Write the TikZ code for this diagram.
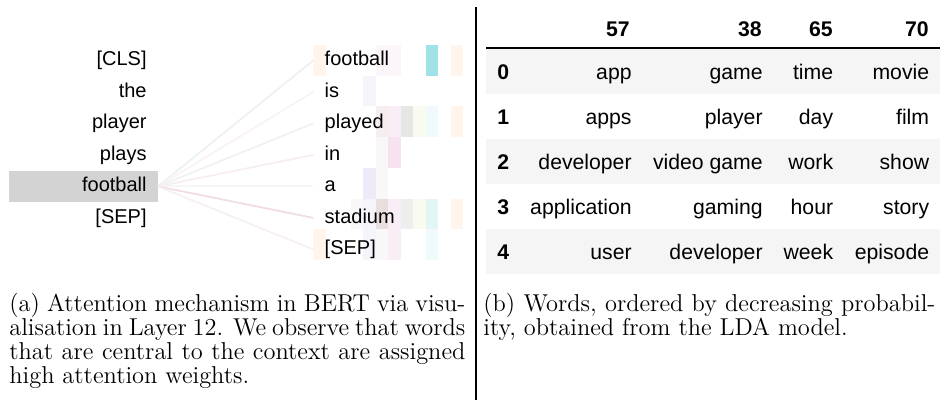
\documentclass[tikz,border=0pt]{standalone}
\usepackage{fontspec}
\usepackage{tikz}
\usetikzlibrary{positioning}
\newfontfamily\arialfont{Liberation Sans}
\definecolor{hlgray}{RGB}{211,211,211}
\definecolor{rowgray}{RGB}{245,245,245}
\definecolor{cteal}{RGB}{160,226,232}
\definecolor{cteallt}{RGB}{226,246,246}
\definecolor{ctealxl}{RGB}{240,250,252}
\definecolor{cpink}{RGB}{247,226,240}
\definecolor{cpinklt}{RGB}{250,238,246}
\definecolor{cpinkxl}{RGB}{252,246,250}
\definecolor{clav}{RGB}{238,234,248}
\definecolor{clavlt}{RGB}{246,244,251}
\definecolor{cgray}{RGB}{230,230,230}
\definecolor{cgraylt}{RGB}{238,238,238}
\definecolor{cbrown}{RGB}{232,222,222}
\definecolor{cbeige}{RGB}{245,238,238}
\definecolor{cyellow}{RGB}{249,251,240}
\definecolor{corange}{RGB}{255,245,236}
\definecolor{cfaint}{RGB}{250,247,249}

\begin{document}
\begin{tikzpicture}[
  x=0.5pt, y=-0.5pt,
  lword/.style={text width=63.5pt, align=right, inner xsep=5.5pt, inner ysep=0pt,
                minimum height=15.35pt, text height=7.3pt, text depth=2.1pt,
                font=\arialfont\fontsize{10}{12}\selectfont},
  rword/.style={lword, align=left, text width=50pt},
  attn/.style={line width=0.9pt},
  tab/.style={anchor=base east, inner sep=0pt, font=\arialfont\fontsize{10.6}{12}\selectfont},
  tabhead/.style={tab, font=\arialfont\bfseries\fontsize{10.6}{12}\selectfont},
  tabidx/.style={tabhead, anchor=base west},
  captext/.style={anchor=base west, inner sep=0pt, font=\fontsize{12.2}{14}\selectfont},
  node distance=0pt,
]
  \useasboundingbox (0,0) rectangle (942,400);

  % attention heat cells behind the target words
  \foreach \r/\c/\col in {0/0/corange, 0/5/cpinkxl, 0/6/cpinkxl, 0/9/cteal, 0/11/corange,
      1/4/clavlt, 2/5/cbeige, 2/6/cpinklt, 2/7/cgray, 2/8/cyellow, 2/9/ctealxl, 2/11/corange,
      3/5/cfaint, 3/6/cpink, 4/4/clav, 4/5/cfaint,
      5/3/cfaint, 5/4/clavlt, 5/5/cbrown, 5/6/cpinklt, 5/7/cgraylt, 5/8/cyellow, 5/9/cteallt, 5/11/corange,
      6/0/corange, 6/4/clavlt, 6/5/cfaint, 6/6/cpinklt, 6/9/ctealxl}
    \fill[\col] ({313.3+12.5*\c},{45.05+30.7*\r}) rectangle ++(12.5,30.7);

  % source words
  \node[lword, anchor=east] (l0) at (158,60.4) {[CLS]};
  \node[lword, below=of l0] (l1) {the};
  \node[lword, below=of l1] (l2) {player};
  \node[lword, below=of l2] (l3) {plays};
  \node[lword, below=of l3, fill=hlgray] (l4) {football};
  \node[lword, below=of l4] (l5) {[SEP]};

  % target words
  \node[rword, anchor=west] (r0) at (313.3,60.4) {football};
  \node[rword, below=of r0] (r1) {is};
  \node[rword, below=of r1] (r2) {played};
  \node[rword, below=of r2] (r3) {in};
  \node[rword, below=of r3] (r4) {a};
  \node[rword, below=of r4] (r5) {stadium};
  \node[rword, below=of r5] (r6) {[SEP]};

  \draw[attn, color={rgb,255:red,236;green,242;blue,238}] (l4.east) -- (r0.west);
  \draw[attn, color={rgb,255:red,249;green,242;blue,246}] (l4.east) -- (r1.west);
  \draw[attn, color={rgb,255:red,238;green,243;blue,240}] (l4.east) -- (r2.west);
  \draw[attn, color={rgb,255:red,247;green,237;blue,242}] (l4.east) -- (r3.west);
  \draw[attn, color={rgb,255:red,246;green,246;blue,246}] (l4.east) -- (r4.west);
  \draw[attn, color={rgb,255:red,240;green,222;blue,229}] (l4.east) -- (r5.west);
  \draw[attn, color={rgb,255:red,246;green,240;blue,244}] (l4.east) -- (r6.west);

  \draw[line width=0.8pt] (475.7,7) -- (475.7,400);

  % LDA topic table
  \foreach \r in {0,2,4}
    \fill[rowgray] (486,{49.5+45*\r}) rectangle (940,{94.5+45*\r});
  \draw[line width=0.7pt] (486,48) -- (940,48);
  \node[tabhead] (h1) at (630,36.5) {57};
  \node[tabhead] (h2) at (762,36.5) {38};
  \node[tabhead] (h3) at (833,36.5) {65};
  \node[tabhead] (h4) at (929,36.5) {70};
  \foreach \r/\a/\b/\c/\d in {0/app/game/time/movie, 1/apps/player/day/film,
      2/developer/video game/work/show, 3/application/gaming/hour/story,
      4/user/developer/week/episode} {
    \node[tabidx] (i\r) at (497,{80+45*\r}) {\r};
    \node[tab] (t\r a) at (632,{80+45*\r}) {\a};
    \node[tab] (t\r b) at (763,{80+45*\r}) {\b};
    \node[tab] (t\r c) at (833.5,{80+45*\r}) {\c};
    \node[tab] (t\r d) at (929.5,{80+45*\r}) {\d};
  }

  % captions
  \node[captext] (ca1) at (9,312) {\makebox[228pt][s]{(a) Attention mechanism in BERT via visu-}};
  \node[captext] (ca2) at (9,336) {\makebox[228pt][s]{alisation in Layer 12. We observe that words}};
  \node[captext] (ca3) at (9,360) {\makebox[228pt][s]{that are central to the context are assigned}};
  \node[captext] (ca4) at (9,384) {high attention weights.};
  \node[captext] (cb1) at (483,312) {\makebox[226pt][s]{(b) Words, ordered by decreasing probabil-}};
  \node[captext] (cb2) at (483,336) {ity, obtained from the LDA model.};
\end{tikzpicture}
\end{document}
